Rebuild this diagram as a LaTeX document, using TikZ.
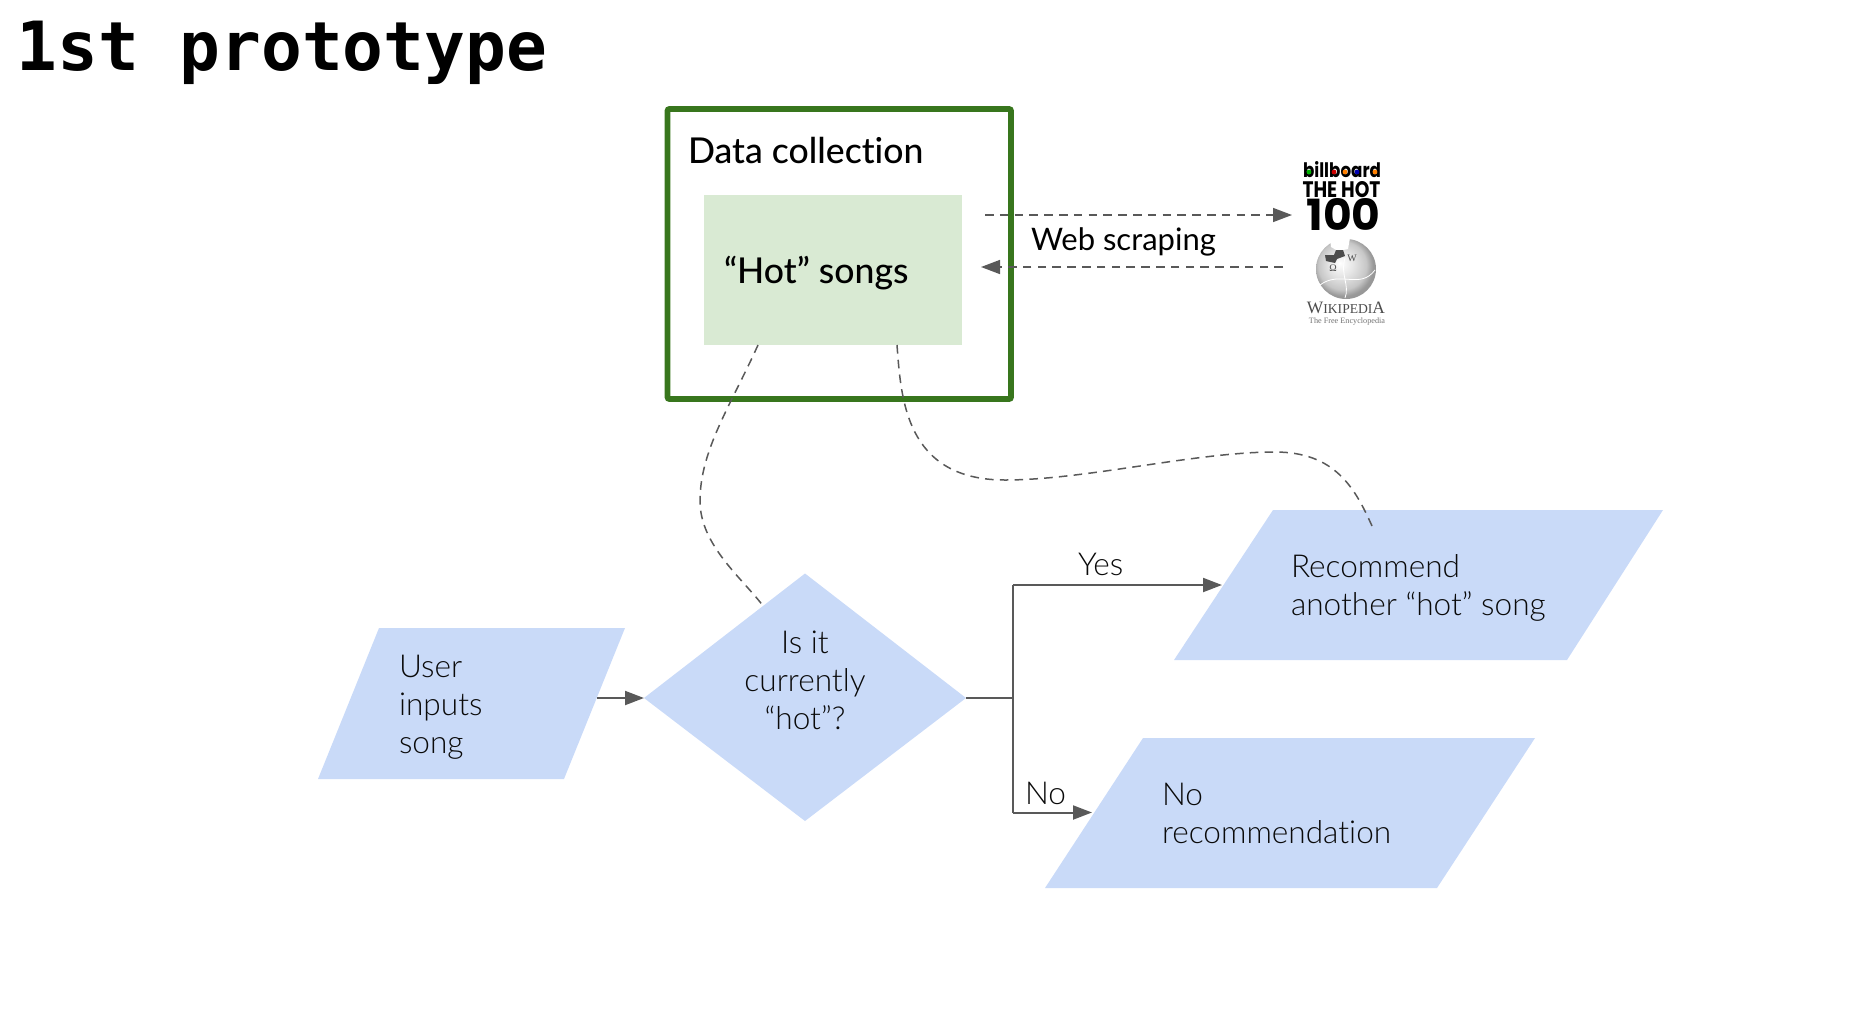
\documentclass[tikz,border=0pt]{standalone}
\usepackage{fontspec}
\usepackage{graphicx}
\setmainfont{Lato}[Ligatures={NoCommon,TeX}]
\newfontfamily\lightf{Lato Light}[Ligatures={NoCommon,TeX}]
\newfontfamily\medf{Lato Medium}[Ligatures={NoCommon,TeX}]
\newfontfamily\monof{DejaVu Sans Mono}
\newfontfamily\popf{Poppins}
\newfontfamily\serf{Liberation Serif}
\usetikzlibrary{arrows.meta,calc}
\definecolor{shapeblue}{HTML}{C9DAF8}
\definecolor{frameg}{HTML}{38761D}
\definecolor{paleg}{HTML}{D9EAD3}
\definecolor{linegray}{HTML}{595959}
\definecolor{inkc}{HTML}{0A0A0A}
\pgfdeclareradialshading{globeshade}{\pgfpoint{-5bp}{5bp}}{color(0bp)=(white);color(10bp)=(black!10);color(20bp)=(black!22);color(25bp)=(black!40);color(50bp)=(black!50)}
\tikzset{
  x=0.5pt,y=-0.5pt,
  shapefill/.style={fill=shapeblue,draw=none},
  lbl/.style={anchor=base west,inner sep=0pt,outer sep=0pt,text=inkc,font=\lightf\fontsize{15.8}{19}\selectfont,align=left},
  lblc/.style={lbl,anchor=base,align=center},
  strong/.style={anchor=base west,inner sep=0pt,outer sep=0pt,text=black,font=\medf\fontsize{17.8}{22}\selectfont},
  webl/.style={strong,font=\rmfamily\fontsize{15.5}{20}\selectfont},
  conn/.style={draw=linegray,line width=1pt},
  arr/.style={conn,-{Triangle[length=9.5pt,width=7pt,fill=linegray]}},
  dashc/.style={draw=linegray,line width=0.75pt,dash pattern=on 4.3pt off 3.1pt},
  dasharr/.style={dashc,-{Triangle[length=9.5pt,width=7pt,fill=linegray]}},
  logot/.style={inner sep=0pt,outer sep=0pt,anchor=center}
}
\begin{document}
\begin{tikzpicture}
\useasboundingbox (0,0) rectangle (1849,1008);
% title
\node[anchor=base west,inner sep=0pt,font=\monof\bfseries\fontsize{33.9}{40}\selectfont] (title) at (16,70) {1st prototype};
% data collection
\node[draw=frameg,line width=2.9pt,rounded corners=1pt,minimum width=171.75pt,minimum height=145pt,anchor=north west,inner sep=0pt,outer sep=0pt] (frame) at (667.5,109) {};
\node[fill=paleg,minimum width=129pt,minimum height=75pt,anchor=north west,inner sep=0pt,outer sep=0pt] (hot) at (703.5,194.5) {};
\node[strong] (dc) at (688,163.5) {Data collection};
\node[strong] (hott) at (724,283) {“Hot” songs};
% shapes
\coordinate (ua) at (379,628); \coordinate (ub) at (625,628); \coordinate (uc) at (564,779); \coordinate (ud) at (318,779);
\fill[shapefill] (ua)--(ub)--(uc)--(ud)--cycle;
\coordinate (da) at (805,573.5); \coordinate (db) at (966,698); \coordinate (dc2) at (805,821); \coordinate (dd) at (644,698);
\fill[shapefill] (da)--(db)--(dc2)--(dd)--cycle;
\coordinate (ra) at (1273,510); \coordinate (rb) at (1663,510); \coordinate (rc) at (1567,660); \coordinate (rd) at (1174,660);
\fill[shapefill] (ra)--(rb)--(rc)--(rd)--cycle;
\coordinate (na) at (1143,738); \coordinate (nb) at (1535,738); \coordinate (nc) at (1437,888); \coordinate (nd) at (1045,888);
\fill[shapefill] (na)--(nb)--(nc)--(nd)--cycle;
% labels
\node[lbl] (ut) at (399,753.5) {User\\inputs\\song};
\node[lblc] (dt) at (805,729) {Is it\\currently\\“hot”?};
\node[lbl] (rt) at (1291,615.5) {Recommend\\another “hot” song};
\node[lbl] (nt) at (1162,843.5) {No\\recommendation};
\node[lbl] (yes) at (1078,575) {Yes};
\node[lbl] (no) at (1025,804) {No};
\node[webl] (web) at (1031,250.5) {Web scraping};
% connectors
\coordinate (uout) at (597,698);
\draw[arr] (uout) -- (dd);
\coordinate (jm) at (1013,698);
\coordinate (jy) at (1013,585);
\coordinate (jn) at (1013,812.5);
\coordinate (yend) at (1222,585);
\coordinate (nend) at (1092,812.5);
\draw[conn] (db) -- (jm);
\draw[conn] (jy) -- (jn);
\draw[arr] (jy) -- (yend);
\draw[arr] (jn) -- (nend);
\coordinate (w1s) at (985,215); \coordinate (w1e) at (1292,215);
\coordinate (w2s) at (1283,267); \coordinate (w2e) at (981,267);
\draw[dasharr] (w1s) -- (w1e);
\draw[dasharr] (w2s) -- (w2e);
\coordinate (c1s) at (758,345); \coordinate (c1e) at (764,607);
\draw[dashc] (c1s) .. controls (731,405) and (700,450) .. (700,501) .. controls (700,545) and (742,578) .. (c1e);
\coordinate (c2s) at (897,345); \coordinate (c2e) at (1372,526);
\draw[dashc] (c2s) .. controls (901,398) and (905,480) .. (1005,480) .. controls (1085,480) and (1195,452) .. (1275,452) .. controls (1335,452) and (1355,488) .. (c2e);
% billboard logo
\node[logot] (bb) at (1342,169.5) {\resizebox{39pt}{8pt}{\popf\bfseries billboard}};
\foreach \x/\c in {1309/green!70!black,1334/red!80!black,1345/orange,1357/blue!70!black,1375/orange}
  \fill[\c] (\x,172) circle (1.2pt);
\node[logot] (hot100a) at (1341.5,189.5) {\resizebox{39pt}{8pt}{\popf\bfseries THE HOT}};
\node[logot] (hot100b) at (1343.5,214) {\resizebox{37pt}{16pt}{\popf\bfseries 100}};
% wikipedia globe
\path[shading=globeshade] (1346,269) circle (15pt);
\fill[white] (1330,238) -- (1331,247) -- (1338,251) -- (1348,249) -- (1350,238) -- cycle;
\fill[black!70] (1325,255) -- (1334,255) -- (1336,250) -- (1343,250) -- (1345,256) -- (1337,259) -- (1335,263) -- (1326,261) -- cycle;
\draw[white,line width=0.4pt] (1320,285) .. controls (1340,270) and (1360,290) .. (1375,270);
\draw[white,line width=0.4pt] (1345,258) .. controls (1340,275) and (1350,285) .. (1345,298);
\node[logot,text=gray!60!black,font=\serf\fontsize{5}{5}\selectfont] (omega) at (1333,268) {Ω};
\node[logot,text=gray!60!black,font=\serf\fontsize{5}{5}\selectfont] (wglobe) at (1352,258) {W};
\node[logot,text=black!70,font=\serf\fontsize{8.7}{9}\selectfont,anchor=base] (wiki) at (1346,313) {W\fontsize{6.8}{9}\selectfont IKIPEDI\fontsize{8.7}{9}\selectfont A};
\node[logot,text=black!55,font=\serf\fontsize{4.1}{5}\selectfont,anchor=base] (free) at (1347,323) {The Free Encyclopedia};
\end{tikzpicture}
\end{document}
